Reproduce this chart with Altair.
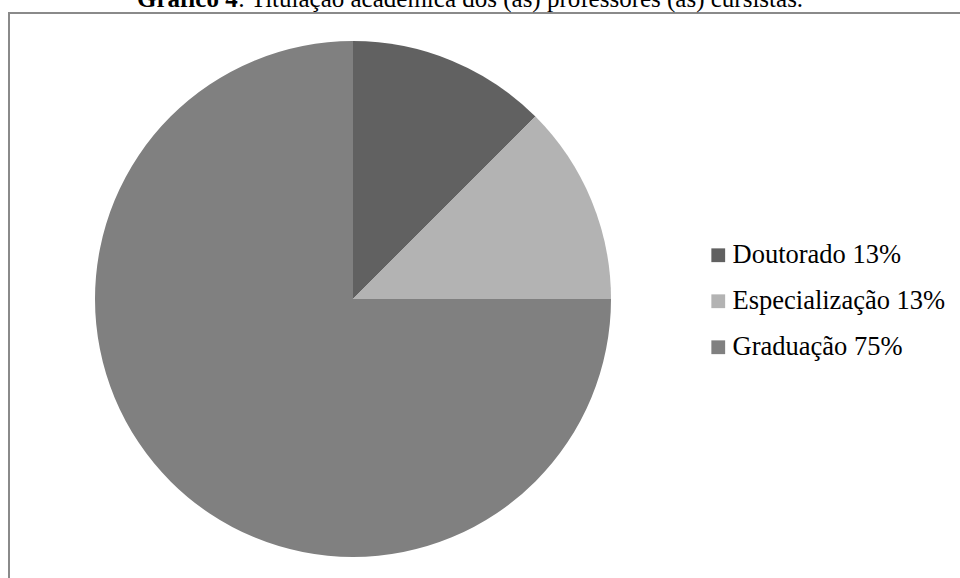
import altair as alt
import pandas as pd

categories = ["Doutorado", "Especialização", "Graduação"]
shares = [12.5, 12.5, 75.0]
legend_labels = ["Doutorado 13%", "Especialização 13%", "Graduação 75%"]
colors = ["#616161", "#b3b3b3", "#808080"]
title_bold = "Gráfico 4"
title_rest = ": Titulação acadêmica dos (as) professores (as) cursistas."

df = pd.DataFrame({
    "categoria": categories,
    "share": shares,
    "label": legend_labels,
    "idx": list(range(len(categories))),
})

W, H = 960, 578
FS = 25
LFS = 26.5

border = alt.Chart(pd.DataFrame({"a": [0]})).mark_rect(
    fill=None, stroke="#8a8a8a", strokeWidth=2
).encode(
    x=alt.value(9), y=alt.value(13), x2=alt.value(1000), y2=alt.value(640)
)

pie = alt.Chart(df).mark_arc(outerRadius=258, stroke=None).encode(
    theta=alt.Theta("share:Q", stack=True),
    color=alt.Color(
        "label:N",
        scale=alt.Scale(domain=legend_labels, range=colors),
        legend=alt.Legend(
            title=None,
            orient="none",
            legendX=705,
            legendY=242,
            symbolType="square",
            symbolSize=190,
            symbolStrokeWidth=0,
            labelFont="Liberation Serif",
            labelFontSize=LFS,
            labelColor="#000000",
            labelOffset=1,
            rowPadding=19,
            padding=0,
            labelLimit=400,
        ),
    ),
    order=alt.Order("idx:Q"),
    x=alt.value(353),
    y=alt.value(299),
)

t1 = alt.Chart(pd.DataFrame({"t": [title_bold]})).mark_text(
    font="Liberation Serif", fontSize=FS, fontWeight="bold", align="left",
    baseline="alphabetic", color="#000000"
).encode(text="t:N", x=alt.value(137), y=alt.value(7))

t2 = alt.Chart(pd.DataFrame({"t": [title_rest]})).mark_text(
    font="Liberation Serif", fontSize=FS, align="left",
    baseline="alphabetic", color="#000000"
).encode(text="t:N", x=alt.value(238), y=alt.value(7))

chart = alt.layer(border, pie, t1, t2).properties(
    width=W, height=H, padding=0, autosize=alt.AutoSizeParams(type="none"),
    background="white",
).configure_view(stroke=None)

chart.save("out.html", embed_options={"renderer": "svg", "actions": False})
